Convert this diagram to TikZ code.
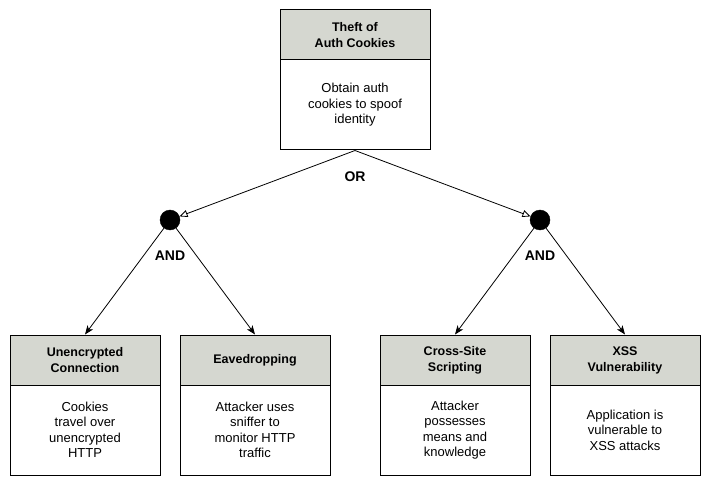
\documentclass[tikz,border=0pt]{standalone}
\usepackage{fontspec}
\setmainfont{Liberation Sans}
\usetikzlibrary{arrows.meta}
\definecolor{hdrgray}{RGB}{213,215,208}
\tikzset{
  hdr/.style={draw=black, line width=1pt, fill=hdrgray, minimum width=150pt, minimum height=50pt, inner sep=0pt, align=center, font=\fontsize{12.5}{16}\selectfont\bfseries},
  bodybox/.style={draw=black, line width=1pt, fill=white, minimum width=150pt, minimum height=90pt, inner sep=0pt, align=center, font=\fontsize{13}{15.5}\selectfont},
  gate/.style={circle, fill=black, draw=black, minimum size=20pt, inner sep=0pt},
  gatelabel/.style={font=\fontsize{14}{16}\selectfont\bfseries},
  orarrow/.style={line width=0.8pt, -{Triangle[open, length=8pt, width=7pt]}},
  andarrow/.style={line width=0.8pt, -{Stealth[length=9pt, width=7pt, inset=2.5pt]}}
}
\begin{document}
\begin{tikzpicture}[x=1pt,y=-1pt]
\useasboundingbox (0,0) rectangle (711,486);
% top box
\node[hdr] (th) at (355,35) {Theft of\\Auth Cookies};
\node[bodybox] (tb) at (355,105) {Obtain auth\\cookies to spoof\\identity};
% gates
\node[gate] (g1) at (170,220) {};
\node[gate] (g2) at (540,220) {};
\node[gatelabel] (orl) at (355,177) {OR};
\node[gatelabel] (and1) at (170,256) {AND};
\node[gatelabel] (and2) at (540,256) {AND};
% bottom boxes
\node[hdr] (h1) at (85,360) {Unencrypted\\Connection};
\node[bodybox] (b1) at (85,430) {Cookies\\travel over\\unencrypted\\HTTP};
\node[hdr] (h2) at (255,360) {Eavedropping};
\node[bodybox] (b2) at (255,430) {Attacker uses\\sniffer to\\monitor HTTP\\traffic};
\node[hdr] (h3) at (455,360) {Cross-Site\\Scripting};
\node[bodybox] (b3) at (455,430) {Attacker\\possesses\\means and\\knowledge};
\node[hdr] (h4) at (625,360) {XSS\\Vulnerability};
\node[bodybox] (b4) at (625,430) {Application is\\vulnerable to\\XSS attacks};
% connectors
\draw[orarrow] (tb.south) -- (g1);
\draw[orarrow] (tb.south) -- (g2);
\draw[andarrow] (g1) -- (h1.north);
\draw[andarrow] (g1) -- (h2.north);
\draw[andarrow] (g2) -- (h3.north);
\draw[andarrow] (g2) -- (h4.north);
\end{tikzpicture}
\end{document}
